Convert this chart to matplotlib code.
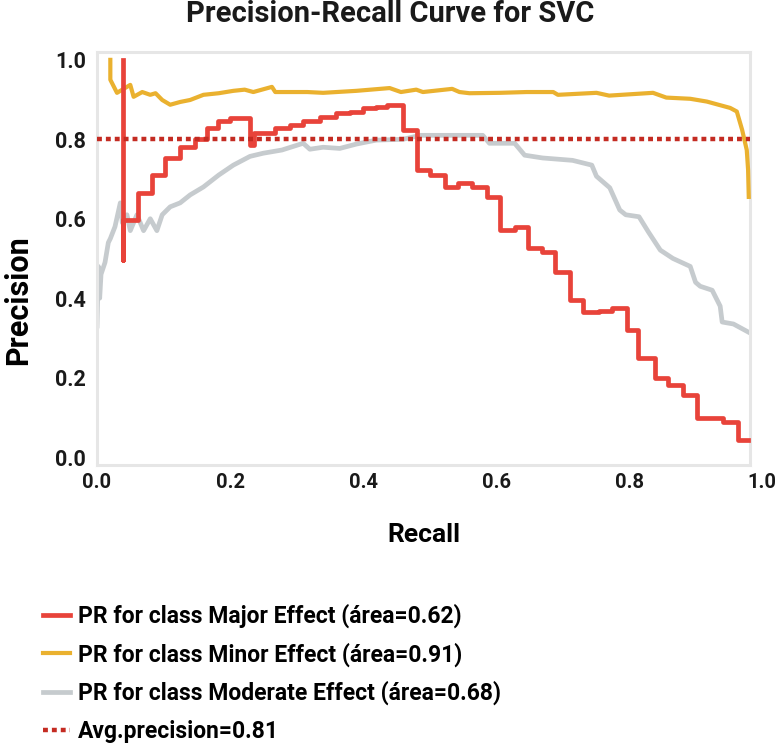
import numpy as np
import matplotlib.pyplot as plt

plt.rcParams['font.family'] = ['Roboto', 'DejaVu Sans']
plt.rcParams['font.weight'] = 'bold'

# Major Effect (red) - step curve, (recall, precision)
major_recall = [0.039, 0.039, 0.039, 0.062, 0.083, 0.102, 0.125, 0.147, 0.165, 0.182, 0.200,
                0.230, 0.236, 0.268, 0.290, 0.310, 0.335, 0.360, 0.380, 0.400, 0.420, 0.436,
                0.460, 0.481, 0.500, 0.523, 0.543, 0.564, 0.586, 0.606, 0.629, 0.648, 0.669,
                0.689, 0.711, 0.731, 0.755, 0.774, 0.797, 0.813, 0.839, 0.859, 0.881, 0.902,
                0.941, 0.964, 0.979]
major_precision = [1.0, 0.496, 0.597, 0.665, 0.710, 0.753, 0.780, 0.800, 0.829, 0.845, 0.853,
                   0.785, 0.816, 0.829, 0.836, 0.846, 0.856, 0.866, 0.869, 0.879, 0.882, 0.887,
                   0.824, 0.723, 0.710, 0.680, 0.690, 0.680, 0.655, 0.572, 0.579, 0.526, 0.516,
                   0.466, 0.395, 0.365, 0.368, 0.375, 0.320, 0.249, 0.199, 0.181, 0.156, 0.098,
                   0.088, 0.043, 0.043]

# Minor Effect (yellow)
minor_recall = [0.020, 0.020, 0.030, 0.050, 0.055, 0.068, 0.080, 0.088, 0.098, 0.110, 0.125,
                0.140, 0.160, 0.183, 0.205, 0.222, 0.235, 0.263, 0.268, 0.316, 0.340, 0.390,
                0.440, 0.457, 0.480, 0.490, 0.534, 0.545, 0.560, 0.606, 0.646, 0.686, 0.693,
                0.751, 0.770, 0.836, 0.856, 0.892, 0.917, 0.952, 0.962, 0.970, 0.977, 0.979,
                0.980]
minor_precision = [1.0, 0.950, 0.917, 0.937, 0.907, 0.919, 0.912, 0.916, 0.899, 0.887, 0.894,
                   0.899, 0.912, 0.916, 0.922, 0.925, 0.919, 0.932, 0.919, 0.919, 0.917, 0.922,
                   0.929, 0.919, 0.925, 0.919, 0.927, 0.919, 0.916, 0.917, 0.919, 0.919, 0.912,
                   0.917, 0.910, 0.917, 0.905, 0.902, 0.895, 0.879, 0.870, 0.824, 0.773, 0.723,
                   0.655]

# Moderate Effect (gray)
moderate_recall = [0.000, 0.002, 0.004, 0.006, 0.012, 0.017, 0.020, 0.027, 0.035, 0.038, 0.045,
                   0.050, 0.060, 0.070, 0.080, 0.090, 0.098, 0.110, 0.125, 0.140, 0.160, 0.183,
                   0.205, 0.230, 0.250, 0.278, 0.310, 0.320, 0.340, 0.365, 0.390, 0.420, 0.460,
                   0.486, 0.580, 0.590, 0.628, 0.643, 0.670, 0.715, 0.744, 0.751, 0.771, 0.786,
                   0.795, 0.815, 0.829, 0.847, 0.866, 0.892, 0.900, 0.907, 0.925, 0.937, 0.940,
                   0.957, 0.979]
moderate_precision = [0.33, 0.48, 0.40, 0.46, 0.49, 0.54, 0.55, 0.58, 0.64, 0.59, 0.61,
                      0.57, 0.61, 0.57, 0.60, 0.57, 0.61, 0.63, 0.64, 0.66, 0.68, 0.71,
                      0.735, 0.757, 0.765, 0.773, 0.790, 0.775, 0.780, 0.777, 0.788, 0.798, 0.800,
                      0.810, 0.810, 0.790, 0.790, 0.760, 0.753, 0.747, 0.735, 0.707, 0.678, 0.622,
                      0.610, 0.605, 0.567, 0.521, 0.500, 0.480, 0.440, 0.430, 0.420, 0.380, 0.340,
                      0.335, 0.315]

avg_precision = 0.80
labels = ['PR for class Major Effect (área=0.62)',
          'PR for class Minor Effect (área=0.91)',
          'PR for class Moderate Effect (área=0.68)',
          'Avg.precision=0.81']
ticks = [0.0, 0.2, 0.4, 0.6, 0.8, 1.0]

fig = plt.figure(figsize=(7.8, 7.47), dpi=100)
ax = fig.add_axes([0.1244, 0.3775, 0.8526, 0.553])

ax.plot(major_recall, major_precision, drawstyle='steps-post', color='#E8433A', lw=3.4, label=labels[0], zorder=4)
ax.plot(minor_recall, minor_precision, color='#EAB12F', lw=3.0, label=labels[1], zorder=3)
ax.plot(moderate_recall, moderate_precision, color='#C6CBCE', lw=3.4, label=labels[2], zorder=2)
ax.axhline(avg_precision, xmin=0, xmax=0.982, color='#C42B22', lw=3.2, ls=(0, (1.1, 0.9)), label=labels[3], zorder=5)

ax.set_xlim(0, 1.0)
ax.set_ylim(-0.02, 1.02)
ax.set_xticks(ticks)
ax.set_yticks(ticks)
ax.tick_params(length=0, colors='#1a1a1a')
ax.tick_params(axis='y', pad=8, labelsize=15.5)
ax.tick_params(axis='x', pad=6, labelsize=14.5)

for s in ax.spines.values():
    s.set_color('#E6E6E6')
    s.set_linewidth(2.2)
ax.spines['right'].set_position(('data', 0.982))
ax.spines['top'].set_bounds(0, 0.982)
ax.spines['bottom'].set_bounds(0, 0.982)

fig.text(0.5, 0.981, 'Precision-Recall Curve for SVC', fontsize=21, fontweight='bold',
         ha='center', va='center', color='#1a1a1a')
ax.set_xlabel('Recall', fontsize=19, fontweight='bold', labelpad=22, x=0.491)
ax.set_ylabel('Precision', fontsize=22, fontweight='bold', labelpad=16, y=0.40)

fig.legend(loc='upper left', bbox_to_anchor=(0.055, 0.192), frameon=False,
           prop={'size': 16.5, 'weight': 'bold'}, handlelength=1.17, handletextpad=0.35,
           labelspacing=0.62, borderaxespad=0, borderpad=0)

fig.savefig('out.png', dpi=100)
